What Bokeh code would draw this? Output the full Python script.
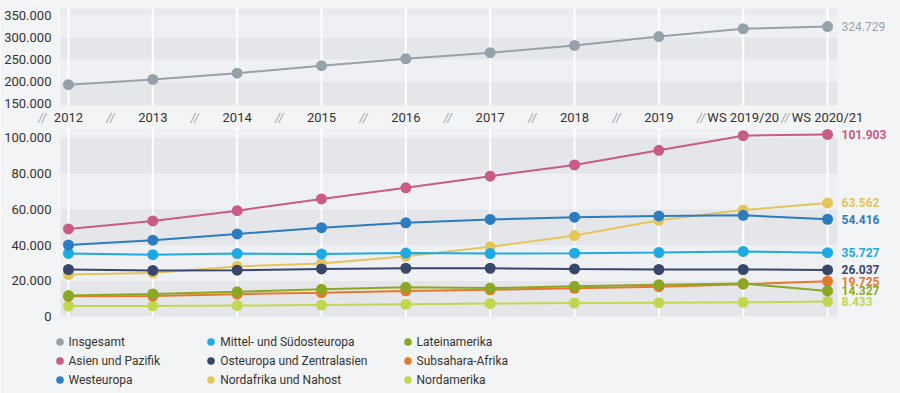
from bokeh.plotting import figure
from bokeh.models import Range1d, FixedTicker, Legend, LegendItem
from bokeh.layouts import column
from bokeh.embed import file_html
from bokeh.resources import INLINE
from bokeh.core.properties import value

# ---------------- data ----------------
periods = ["2012", "2013", "2014", "2015", "2016", "2017", "2018", "2019", "WS 2019/20", "WS 2020/21"]
insgesamt = [192853, 204644, 218848, 235858, 251542, 265484, 282002, 302157, 319902, 324729]

asien = [49000, 53500, 59200, 65800, 72000, 78500, 84800, 93000, 101200, 101903]
westeuropa = [40000, 42700, 46200, 49700, 52400, 54300, 55600, 56300, 56600, 54416]
mittel = [35300, 34600, 35200, 35000, 35500, 35200, 35400, 35800, 36400, 35727]
osteuropa = [26300, 25800, 25900, 26600, 27000, 27000, 26600, 26300, 26300, 26037]
nordafrika = [23500, 24400, 28000, 29700, 33700, 39000, 45300, 53800, 59600, 63562]
latein = [11700, 12600, 13800, 15200, 16300, 15900, 16900, 17800, 18400, 14327]
subsahara = [11300, 11400, 12500, 13300, 14300, 14900, 15800, 16700, 18100, 19725]
nordamerika = [5800, 5900, 6100, 6400, 6800, 7200, 7500, 7700, 7900, 8433]

top_ticks = [150000, 200000, 250000, 300000, 350000]
bottom_ticks = [0, 20000, 40000, 60000, 80000, 100000]

series = [
    ("Asien und Pazifik", asien, "#c85b87"),
    ("Westeuropa", westeuropa, "#2c7cc0"),
    ("Mittel- und Südosteuropa", mittel, "#1eaae2"),
    ("Osteuropa und Zentralasien", osteuropa, "#37466a"),
    ("Nordafrika und Nahost", nordafrika, "#e4c55b"),
    ("Lateinamerika", latein, "#8aa823"),
    ("Subsahara-Afrika", subsahara, "#e6772e"),
    ("Nordamerika", nordamerika, "#c2d64f"),
]
total_color = "#97a1aa"

# ---------------- style ----------------
FONT = "Roboto"
BG = "#f3f4f6"
BAND = "#e5e6e9"
LIGHT = "#eff0f3"
TXT = "#333333"

def fmt(v):
    return f"{v:,}".replace(",", ".")

xs = list(range(len(periods)))
x_lo, x_hi = -0.806, 9.865        # whole canvas width
band_left, band_right = -0.095, 9.118
label_dx = 0.166


def base_fig(height, y0, y1, ticks):
    p = figure(width=900, height=height, x_range=Range1d(x_lo, x_hi), y_range=Range1d(y0, y1),
               output_backend="svg", toolbar_location=None,
               min_border_left=0, min_border_right=0, min_border_top=0, min_border_bottom=0)
    p.background_fill_color = BG
    p.border_fill_color = BG
    p.outline_line_color = None
    p.xaxis.visible = False
    p.grid.visible = False
    ax = p.yaxis[0]
    ax.fixed_location = band_left
    ax.ticker = FixedTicker(ticks=ticks)
    ax.major_label_overrides = {t: fmt(t) for t in ticks}
    ax.axis_line_color = None
    ax.major_tick_line_color = None
    ax.minor_tick_line_color = None
    ax.major_label_standoff = 3
    ax.major_label_text_font = FONT
    ax.major_label_text_font_size = "13px"
    ax.major_label_text_color = TXT
    return p

# ---------------- top panel ----------------
t_lo, t_hi = 93200, 384100
top_bottom, top_top = 145500, 366000
p1 = base_fig(128, t_lo, t_hi, top_ticks)
bands_b = [top_bottom, 200000, 250000, 300000, 350000]
bands_t = [200000, 250000, 300000, 350000, top_top]
cols = [BAND, LIGHT, BAND, LIGHT, "#e9eaed"]
p1.quad(left=band_left, right=band_right, bottom=bands_b, top=bands_t, fill_color=cols, line_color=None)
p1.segment(x0=xs, y0=top_bottom, x1=xs, y1=top_top, line_color="white", line_width=2)
p1.line(xs, insgesamt, line_color=total_color, line_width=2)
p1.scatter(xs, insgesamt, size=11, fill_color=total_color, line_color=None)
p1.text(x=[xs[-1] + label_dx], y=[insgesamt[-1]], text=[fmt(insgesamt[-1])], text_font=value(FONT),
        text_font_size="12px", text_color=total_color, text_baseline="middle", text_align="left")
# period labels between the panels
label_y = 118000
p1.text(x=xs, y=label_y, text=periods, text_font=value(FONT), text_font_size="13px",
        text_color=TXT, text_align="center", text_baseline="middle")
slash_x = [-0.31] + [i - 0.5 for i in range(1, len(periods))]
p1.text(x=slash_x, y=label_y, text=["//"] * len(slash_x), text_font=value(FONT),
        text_font_size="12px", text_color="#a0a0a0", text_align="center", text_baseline="middle",
        text_font_style="italic")

# ---------------- bottom panel ----------------
b_lo, b_hi = -43100, 105200
grid_top = 105200
p2 = base_fig(265, b_lo, b_hi, bottom_ticks)
bb = [0, 20000, 40000, 60000, 80000, 100000]
bt = [20000, 40000, 60000, 80000, 100000, grid_top]
bc = [BAND, LIGHT, BAND, LIGHT, BAND, LIGHT]
p2.quad(left=band_left, right=band_right, bottom=bb, top=bt, fill_color=bc, line_color=None)
p2.segment(x0=xs, y0=0, x1=xs, y1=grid_top, line_color="white", line_width=2)

renderers = {}
for name, vals, c in reversed(series):
    p2.line(xs, vals, line_color=c, line_width=2)
    renderers[name] = p2.scatter(xs, vals, size=11, fill_color=c, line_color=None)
    p2.text(x=[xs[-1] + label_dx], y=[vals[-1]], text=[fmt(vals[-1])], text_font=value(FONT),
            text_font_size="12px", text_font_style="bold", text_color=c,
            text_baseline="middle", text_align="left")

# legend entry for the total series (its marks live in the top panel)
renderers["Insgesamt"] = p2.scatter(x=[0], y=[float("nan")], size=11, fill_color=total_color,
                                    line_color=None)

legend_cols = [
    ["Insgesamt", "Asien und Pazifik", "Westeuropa"],
    ["Mittel- und Südosteuropa", "Osteuropa und Zentralasien", "Nordafrika und Nahost"],
    ["Lateinamerika", "Subsahara-Afrika", "Nordamerika"],
]
legend_x = [49.5, 201.2, 397.5]
for names, lx in zip(legend_cols, legend_x):
    lg = Legend(items=[LegendItem(label=n, renderers=[renderers[n]]) for n in names],
                location=(lx, 3.8), orientation="vertical",
                glyph_width=19, glyph_height=19, label_height=19, label_standoff=0,
                spacing=0, padding=0, margin=0, border_line_color=None,
                background_fill_alpha=0, label_text_font=FONT, label_text_font_size="12px",
                label_text_color=TXT)
    p2.add_layout(lg, "center")

layout = column(p1, p2, spacing=0)
open("out.html", "w").write(file_html(layout, INLINE))
